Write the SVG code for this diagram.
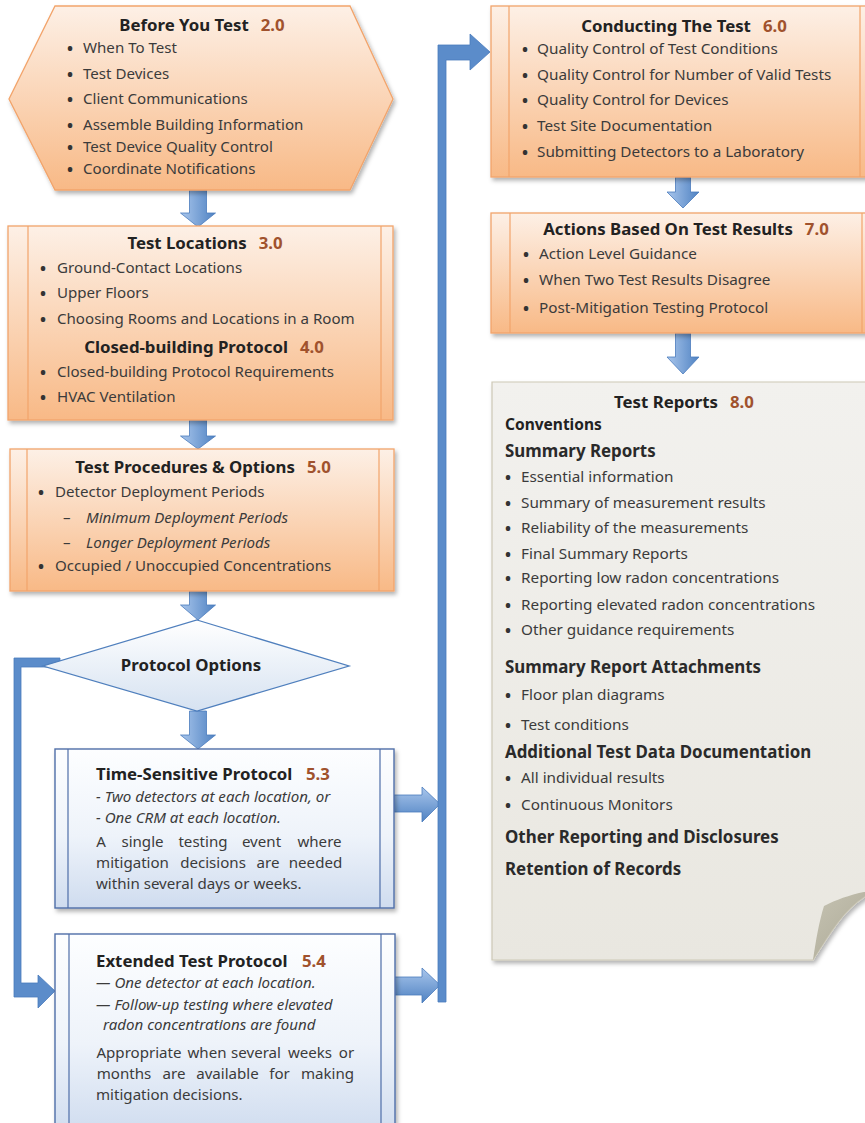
<svg xmlns="http://www.w3.org/2000/svg" width="865" height="1123" viewBox="0 0 865 1123">
  <style>
    .t { font-family: "Noto Sans", "Liberation Sans", sans-serif; font-size: 15.1px; fill: #3b3b3b; }
    .r { font-size: 15.3px; }
    .bu { font-size: 16px; font-weight: bold; fill: #333; }
    .h { font-family: "Noto Sans", "Liberation Sans", sans-serif; font-size: 16.8px; font-weight: bold; fill: #222; }
    .s { font-family: "Noto Sans", "Liberation Sans", sans-serif; font-size: 16.9px; font-weight: bold; fill: #2a2a2a; }
    .n { fill: #a0522d; }
    .i { font-style: italic; }
    .orange { fill: url(#gOrange); stroke: #f2a46b; stroke-width: 1.3; }
    .oline { stroke: #f2a46b; stroke-width: 1.2; fill: none; }
    .blue { fill: url(#gBlue); stroke: #4f6ea8; stroke-width: 1.4; }
    .bline { stroke: #4f6ea8; stroke-width: 1.2; fill: none; }
    .arr { fill: url(#gArrowH); stroke: #4a7bbd; stroke-width: 0.8; }
    .arrR { fill: url(#gArrowV); stroke: #4a7bbd; stroke-width: 0.8; }
    .bar { fill: #5b8cca; stroke: #4a7bbd; stroke-width: 0.8; }
  </style>
  <defs>
    <linearGradient id="gOrange" x1="0" y1="0" x2="0" y2="1">
      <stop offset="0" stop-color="#fdf0e6"/>
      <stop offset="1" stop-color="#f8b986"/>
    </linearGradient>
    <linearGradient id="gBlue" x1="0" y1="0" x2="0" y2="1">
      <stop offset="0" stop-color="#fdfeff"/>
      <stop offset="0.55" stop-color="#eef3fa"/>
      <stop offset="1" stop-color="#cfdcef"/>
    </linearGradient>
    <linearGradient id="gDiamond" x1="0" y1="0" x2="0" y2="1">
      <stop offset="0" stop-color="#ffffff"/>
      <stop offset="1" stop-color="#d6e2f1"/>
    </linearGradient>
    <linearGradient id="gPaper" x1="0" y1="0" x2="0" y2="1">
      <stop offset="0" stop-color="#f2f1ee"/>
      <stop offset="1" stop-color="#e9e7e0"/>
    </linearGradient>
    <linearGradient id="gFold" x1="0" y1="0" x2="1" y2="1">
      <stop offset="0" stop-color="#c6c3b3"/>
      <stop offset="1" stop-color="#a9a692"/>
    </linearGradient>
    <linearGradient id="gArrowH" x1="0" y1="0" x2="1" y2="0">
      <stop offset="0" stop-color="#a9c6ec"/>
      <stop offset="1" stop-color="#4f82c2"/>
    </linearGradient>
    <linearGradient id="gArrowV" x1="0" y1="0" x2="0" y2="1">
      <stop offset="0" stop-color="#a9c6ec"/>
      <stop offset="1" stop-color="#4f82c2"/>
    </linearGradient>
    <filter id="shadow" x="-10%" y="-10%" width="120%" height="125%">
      <feDropShadow dx="2" dy="3" stdDeviation="2" flood-color="#000" flood-opacity="0.3"/>
    </filter>
  </defs>

  <rect width="865" height="1123" fill="#ffffff"/>

  <!-- connectors -->
  <g id="connectors">
    <!-- vertical chain on the left -->
    <path class="arr" d="M189.5,190 H206.5 V213 H215.5 L198,227 L180.5,213 H189.5 Z"/>
    <path class="arr" d="M189.5,420 H206.5 V436 H215.5 L198,449 L180.5,436 H189.5 Z"/>
    <path class="arr" d="M189.5,591 H206.5 V605 H215.5 L198,620 L180.5,605 H189.5 Z"/>
    <path class="arr" d="M189.5,711 H206.5 V735 H215.5 L198,749 L180.5,735 H189.5 Z"/>
    <!-- diamond left branch down to the extended protocol -->
    <path class="bar" d="M60,658 H14 V997 H38 V1008 L55,991 L38,975 V983 H21 V667 H60 Z"/>
    <!-- protocols into the collector bar -->
    <path class="arrR" d="M394,795 H422 V787 L440,804 L422,822 V812 H394 Z"/>
    <path class="arrR" d="M394,977 H422 V968 L440,985 L422,1003 V995 H394 Z"/>
    <!-- collector bar up to conducting the test -->
    <path class="bar" d="M438,1002 V45 H470 V34 L490,52 L470,70 V60 H446 V1002 Z"/>
    <!-- right column chain -->
    <path class="arr" d="M675.5,177 H690.5 V192 H699 L683,208 L667,192 H675.5 Z"/>
    <path class="arr" d="M675.5,333 H690.5 V357 H699 L683,374 L667,357 H675.5 Z"/>
  </g>

  <!-- 2.0 -->
  <g id="before-you-test">
    <polygon class="orange" filter="url(#shadow)" points="55,6 350,6 393,99 350,190 55,190 9,99"/>
    <text class="h" x="202" y="31" text-anchor="middle">Before You Test<tspan class="n" dx="12">2.0</tspan></text>
    <text class="t"><tspan class="bu" x="67" y="53.5">•</tspan><tspan x="83" y="53">When To Test</tspan></text>
    <text class="t"><tspan class="bu" x="67" y="79.5">•</tspan><tspan x="83" y="79">Test Devices</tspan></text>
    <text class="t"><tspan class="bu" x="67" y="104.5">•</tspan><tspan x="83" y="104">Client Communications</tspan></text>
    <text class="t"><tspan class="bu" x="67" y="130.5">•</tspan><tspan x="83" y="130">Assemble Building Information</tspan></text>
    <text class="t"><tspan class="bu" x="67" y="152.5">•</tspan><tspan x="83" y="152">Test Device Quality Control</tspan></text>
    <text class="t"><tspan class="bu" x="67" y="174.5">•</tspan><tspan x="83" y="174">Coordinate Notifications</tspan></text>
  </g>

  <!-- 3.0 / 4.0 -->
  <g id="test-locations">
    <rect class="orange" filter="url(#shadow)" x="8" y="226" width="385" height="194"/>
    <path class="oline" d="M28,226 V420 M381,226 V420"/>
    <text class="h" x="205" y="249" text-anchor="middle">Test Locations<tspan class="n" dx="12">3.0</tspan></text>
    <text class="t"><tspan class="bu" x="40" y="273.5">•</tspan><tspan x="57" y="273">Ground-Contact Locations</tspan></text>
    <text class="t"><tspan class="bu" x="40" y="298.5">•</tspan><tspan x="57" y="298">Upper Floors</tspan></text>
    <text class="t"><tspan class="bu" x="40" y="324.5">•</tspan><tspan x="57" y="324">Choosing Rooms and Locations in a Room</tspan></text>
    <text class="h" x="204" y="353" text-anchor="middle">Closed-building Protocol<tspan class="n" dx="12">4.0</tspan></text>
    <text class="t"><tspan class="bu" x="40" y="377.5">•</tspan><tspan x="57" y="377">Closed-building Protocol Requirements</tspan></text>
    <text class="t"><tspan class="bu" x="40" y="402.5">•</tspan><tspan x="57" y="402">HVAC Ventilation</tspan></text>
  </g>

  <!-- 5.0 -->
  <g id="test-procedures">
    <rect class="orange" filter="url(#shadow)" x="10" y="449" width="384" height="142"/>
    <path class="oline" d="M27,449 V591 M379,449 V591"/>
    <text class="h" x="203" y="473" text-anchor="middle">Test Procedures &amp; Options<tspan class="n" dx="12">5.0</tspan></text>
    <text class="t"><tspan class="bu" x="38" y="497.5">•</tspan><tspan x="55" y="497">Detector Deployment Periods</tspan></text>
    <text class="t"><tspan x="63" y="523">–</tspan><tspan class="i" x="86" y="523">Minimum Deployment Periods</tspan></text>
    <text class="t"><tspan x="63" y="548">–</tspan><tspan class="i" x="86" y="548">Longer Deployment Periods</tspan></text>
    <text class="t"><tspan class="bu" x="38" y="571.5">•</tspan><tspan x="55" y="571">Occupied / Unoccupied Concentrations</tspan></text>
  </g>

  <!-- decision -->
  <g id="protocol-options">
    <polygon fill="url(#gDiamond)" stroke="#4f7fbd" stroke-width="1.3" points="197,620 349,666 197,711 43,666"/>
    <text class="h" x="191" y="671" text-anchor="middle">Protocol Options</text>
  </g>

  <!-- 5.3 -->
  <g id="time-sensitive">
    <rect class="blue" filter="url(#shadow)" x="55" y="749" width="339" height="159"/>
    <path class="bline" d="M68,749 V908 M380,749 V908"/>
    <text class="h" x="96" y="780">Time-Sensitive Protocol</text>
    <text class="h n" x="306" y="780">5.3</text>
    <text class="t i" x="96" y="802">- Two detectors at each location, or</text>
    <text class="t i" x="96" y="823">- One CRM at each location.</text>
    <!-- justified paragraph: one chunk per word -->
    <text class="t" text-anchor="middle"><tspan x="101" y="847">A</tspan><tspan x="142.5" y="847">single</tspan><tspan x="203" y="847">testing</tspan><tspan x="261.5" y="847">event</tspan><tspan x="319.5" y="847">where</tspan></text>
    <text class="t" text-anchor="middle"><tspan x="132.5" y="868">mitigation</tspan><tspan x="213" y="868">decisions</tspan><tspan x="268" y="868">are</tspan><tspan x="315.5" y="868">needed</tspan></text>
    <text class="t" x="96" y="889">within several days or weeks.</text>
  </g>

  <!-- 5.4 -->
  <g id="extended-protocol">
    <rect class="blue" filter="url(#shadow)" x="55" y="934" width="340" height="200"/>
    <path class="bline" d="M69,934 V1134 M381,934 V1134"/>
    <text class="h" x="96" y="967">Extended Test Protocol</text>
    <text class="h n" x="302" y="967">5.4</text>
    <text class="t i" x="96" y="988">— One detector at each location.</text>
    <text class="t i" x="96" y="1010">— Follow-up testing where elevated</text>
    <text class="t i" x="103" y="1030">radon concentrations are found</text>
    <text class="t" text-anchor="middle"><tspan x="139" y="1058">Appropriate</tspan><tspan x="207" y="1058">when</tspan><tspan x="256" y="1058">several</tspan><tspan x="310" y="1058">weeks</tspan><tspan x="346.5" y="1058">or</tspan></text>
    <text class="t" text-anchor="middle"><tspan x="124" y="1079">months</tspan><tspan x="174" y="1079">are</tspan><tspan x="227.5" y="1079">available</tspan><tspan x="279.5" y="1079">for</tspan><tspan x="327.5" y="1079">making</tspan></text>
    <text class="t" x="96" y="1100">mitigation decisions.</text>
  </g>

  <!-- 6.0 -->
  <g id="conducting-the-test">
    <rect class="orange" filter="url(#shadow)" x="491" y="6" width="390" height="171"/>
    <path class="oline" d="M509,6 V177 M860,6 V177"/>
    <text class="h" x="684" y="32" text-anchor="middle">Conducting The Test<tspan class="n" dx="12">6.0</tspan></text>
    <text class="t r"><tspan class="bu" x="522" y="54.5">•</tspan><tspan x="537" y="54">Quality Control of Test Conditions</tspan></text>
    <text class="t r"><tspan class="bu" x="522" y="80.5">•</tspan><tspan x="537" y="80">Quality Control for Number of Valid Tests</tspan></text>
    <text class="t r"><tspan class="bu" x="522" y="105.5">•</tspan><tspan x="537" y="105">Quality Control for Devices</tspan></text>
    <text class="t r"><tspan class="bu" x="522" y="131.5">•</tspan><tspan x="537" y="131">Test Site Documentation</tspan></text>
    <text class="t r"><tspan class="bu" x="522" y="157.5">•</tspan><tspan x="537" y="157">Submitting Detectors to a Laboratory</tspan></text>
  </g>

  <!-- 7.0 -->
  <g id="actions-on-results">
    <rect class="orange" filter="url(#shadow)" x="491" y="213" width="390" height="120"/>
    <path class="oline" d="M510,213 V333 M862,213 V333"/>
    <text class="h" x="686" y="235" text-anchor="middle">Actions Based On Test Results<tspan class="n" dx="12">7.0</tspan></text>
    <text class="t r"><tspan class="bu" x="523" y="259.5">•</tspan><tspan x="539" y="259">Action Level Guidance</tspan></text>
    <text class="t r"><tspan class="bu" x="523" y="285.5">•</tspan><tspan x="539" y="285">When Two Test Results Disagree</tspan></text>
    <text class="t r"><tspan class="bu" x="523" y="313.5">•</tspan><tspan x="539" y="313">Post-Mitigation Testing Protocol</tspan></text>
  </g>

  <!-- 8.0 -->
  <g id="test-reports">
    <path fill="url(#gPaper)" stroke="#cdc9b6" stroke-width="1.2" filter="url(#shadow)" d="M492,382 H880 V889 C850,900 835,925 813,960 H492 Z"/>
    <path fill="url(#gFold)" d="M824,906 C840,898 855,893 880,889 C850,900 835,925 813,960 C816,940 819,922 824,906 Z"/>
    <text class="h" x="684" y="408" text-anchor="middle">Test Reports<tspan class="n" dx="12">8.0</tspan></text>
    <text class="h" x="505" y="430" style="font-size:15.5px">Conventions</text>
    <text class="s" x="505" y="457">Summary Reports</text>
    <text class="t r"><tspan class="bu" x="505" y="482.5">•</tspan><tspan x="521" y="482">Essential information</tspan></text>
    <text class="t r"><tspan class="bu" x="505" y="508.5">•</tspan><tspan x="521" y="508">Summary of measurement results</tspan></text>
    <text class="t r"><tspan class="bu" x="505" y="533.5">•</tspan><tspan x="521" y="533">Reliability of the measurements</tspan></text>
    <text class="t r"><tspan class="bu" x="505" y="559.5">•</tspan><tspan x="521" y="559">Final Summary Reports</tspan></text>
    <text class="t r"><tspan class="bu" x="505" y="583.5">•</tspan><tspan x="521" y="583">Reporting low radon concentrations</tspan></text>
    <text class="t r"><tspan class="bu" x="505" y="610.5">•</tspan><tspan x="521" y="610">Reporting elevated radon concentrations</tspan></text>
    <text class="t r"><tspan class="bu" x="505" y="635.5">•</tspan><tspan x="521" y="635">Other guidance requirements</tspan></text>
    <text class="s" x="505" y="673">Summary Report Attachments</text>
    <text class="t r"><tspan class="bu" x="505" y="700.5">•</tspan><tspan x="521" y="700">Floor plan diagrams</tspan></text>
    <text class="t r"><tspan class="bu" x="505" y="730.5">•</tspan><tspan x="521" y="730">Test conditions</tspan></text>
    <text class="s" x="505" y="758">Additional Test Data Documentation</text>
    <text class="t r"><tspan class="bu" x="505" y="783.5">•</tspan><tspan x="521" y="783">All individual results</tspan></text>
    <text class="t r"><tspan class="bu" x="505" y="810.5">•</tspan><tspan x="521" y="810">Continuous Monitors</tspan></text>
    <text class="s" x="505" y="843">Other Reporting and Disclosures</text>
    <text class="s" x="505" y="875">Retention of Records</text>
  </g>
</svg>
